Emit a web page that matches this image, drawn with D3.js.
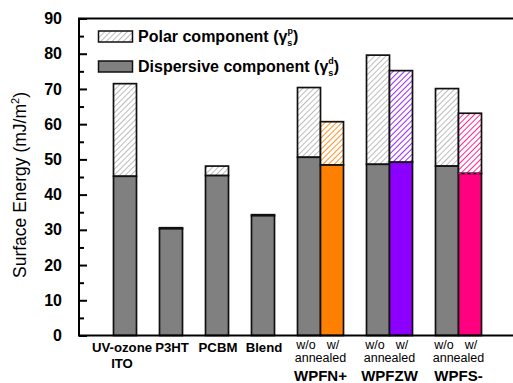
<!DOCTYPE html>
<html>
<head>
<meta charset="utf-8">
<script src="https://cdn.jsdelivr.net/npm/d3@7"></script>
<style>
  html, body { margin: 0; padding: 0; background: #fff; }
  svg { display: block; font-family: "Liberation Sans", Arial, sans-serif; }
</style>
</head>
<body>
<svg id="chart" width="513" height="383"></svg>
<script>
// Surface energy split into dispersive and polar parts, one bar per film
const groups = ["UV-ozone ITO", "P3HT", "PCBM", "Blend", "WPFN+", "WPFZW", "WPFS-"];
const barGroup = ["UV-ozone ITO", "P3HT", "PCBM", "Blend", "WPFN+", "WPFN+", "WPFZW", "WPFZW", "WPFS-", "WPFS-"];
const barCondition = ["", "", "", "", "w/o", "w/", "w/o", "w/", "w/o", "w/"];
const dispersive = [45.2, 30.3, 45.4, 34.0, 50.6, 48.4, 48.6, 49.2, 48.1, 46.0];
const polar = [26.3, 0.3, 2.7, 0.3, 19.8, 12.3, 31.0, 26.0, 22.0, 17.1];
const yTicks = [0, 10, 20, 30, 40, 50, 60, 70, 80, 90];
const yMinorTicks = [5, 15, 25, 35, 45, 55, 65, 75, 85];

const svg = d3.select("#chart");
const plotLeft = 79, plotTop = 18.5, plotBottom = 335.5;

// Horizontal slots measured in bar widths: paired bars touch, clusters are one bar apart
const slotStart = [];
let cursor = 1.5;
groups.forEach((g, gi) => {
  const idx = barGroup.map((b, i) => b === g ? i : -1).filter(i => i >= 0);
  idx.forEach(i => { slotStart[i] = cursor; cursor += 1; });
  if (gi < groups.length - 1) cursor += 1;
});
const slotTotal = cursor + 1.5;

const x = d3.scaleLinear().domain([0, slotTotal]).range([plotLeft, plotLeft + slotTotal * 23]);
const y = d3.scaleLinear().domain([0, 90]).range([plotBottom, plotTop]);
const plotRight = x(slotTotal);
const bw = x(1) - x(0);

const annealColor = { "WPFN+": "#ff8000", "WPFZW": "#8c00ff", "WPFS-": "#ff0080" };
const grey = "#808080";
const fillOf = i => barCondition[i] === "w/" ? annealColor[barGroup[i]] : grey;
const hatchOf = i => barCondition[i] === "w/" ? annealColor[barGroup[i]] : "#858585";

// Diagonal hatch patterns for the polar parts
const defs = svg.append("defs");
const hatchColors = Array.from(new Set(d3.range(dispersive.length).map(hatchOf)));
hatchColors.forEach(c => {
  const p = defs.append("pattern")
    .attr("id", "hatch" + c.slice(1))
    .attr("patternUnits", "userSpaceOnUse")
    .attr("width", 4).attr("height", 4)
    .attr("patternTransform", "rotate(45)");
  p.append("rect").attr("width", 4).attr("height", 4).attr("fill", "#fff");
  p.append("line").attr("x1", 0).attr("y1", 0).attr("x2", 0).attr("y2", 4)
    .attr("stroke", c).attr("stroke-width", c === "#858585" ? 1.1 : 1.7);
});

// Bars
const bars = svg.append("g");
d3.range(dispersive.length).forEach(i => {
  const x0 = x(slotStart[i]);
  const total = dispersive[i] + polar[i];
  bars.append("rect")
    .attr("x", x0).attr("y", y(total))
    .attr("width", bw).attr("height", y(dispersive[i]) - y(total))
    .attr("fill", "url(#hatch" + hatchOf(i).slice(1) + ")")
    .attr("stroke", "#111").attr("stroke-width", 1.7);
  bars.append("rect")
    .attr("x", x0).attr("y", y(dispersive[i]))
    .attr("width", bw).attr("height", y(0) - y(dispersive[i]))
    .attr("fill", fillOf(i))
    .attr("stroke", "#111").attr("stroke-width", 1.7);
  if (barGroup[i] === "WPFS-" && barCondition[i] === "w/") {
    bars.append("line")
      .attr("x1", x0).attr("x2", x0 + bw)
      .attr("y1", y(dispersive[i])).attr("y2", y(dispersive[i]))
      .attr("stroke", annealColor["WPFS-"]).attr("stroke-width", 1.7)
      .attr("stroke-dasharray", "3,3");
  }
});

// Frame
svg.append("rect")
  .attr("x", plotLeft).attr("y", plotTop)
  .attr("width", plotRight - plotLeft).attr("height", plotBottom - plotTop)
  .attr("fill", "none").attr("stroke", "#000").attr("stroke-width", 2);

// Left axis, ticks pointing inward
const yAxis = svg.append("g").attr("transform", `translate(${plotLeft},0)`)
  .call(d3.axisLeft(y).tickValues(yTicks).tickSizeInner(-8).tickSizeOuter(0).tickPadding(17));
yAxis.select(".domain").remove();
yAxis.selectAll(".tick line").attr("stroke", "#000").attr("stroke-width", 2);
yAxis.selectAll(".tick text")
  .attr("font-size", 16).attr("font-weight", "bold").attr("fill", "#000")
  .attr("font-family", "Liberation Sans, Arial, sans-serif");

const yMinor = svg.append("g").attr("transform", `translate(${plotLeft},0)`)
  .call(d3.axisLeft(y).tickValues(yMinorTicks).tickSizeInner(-5).tickSizeOuter(0).tickFormat(""));
yMinor.select(".domain").remove();
yMinor.selectAll(".tick line").attr("stroke", "#000").attr("stroke-width", 2);

// Y axis title
const yt = svg.append("text")
  .attr("transform", `translate(26,${(plotTop + plotBottom) / 2 + 8}) rotate(-90)`)
  .attr("text-anchor", "middle")
  .attr("font-size", 17.5).attr("fill", "#000");
yt.append("tspan").text("Surface Energy (mJ/m");
yt.append("tspan").attr("font-size", 11).attr("dy", -7).text("2");
yt.append("tspan").attr("dy", 7).text(")");

// Legend
const legend = [
  { label: "Polar component (", sup: "p", fill: "url(#hatch858585)" },
  { label: "Dispersive component (", sup: "d", fill: grey }
];
legend.forEach((d, k) => {
  const ly = 31 + k * 30;
  svg.append("rect")
    .attr("x", 98.5).attr("y", ly).attr("width", 34).attr("height", 11)
    .attr("fill", d.fill).attr("stroke", "#111").attr("stroke-width", 1.5);
  const t = svg.append("text")
    .attr("x", 138).attr("y", ly + 11)
    .attr("font-size", 16).attr("font-weight", "bold").attr("fill", "#000");
  t.append("tspan").text(d.label + "γ");
  t.append("tspan").attr("font-size", 9).attr("dy", 4).text("s");
  t.append("tspan").attr("font-size", 9).attr("dx", -5).attr("dy", -12).text(d.sup);
  t.append("tspan").attr("dy", 8).text(")");
});

// Category labels under the axis
const labels = svg.append("g").attr("fill", "#000");
const centre = i => x(slotStart[i] + 0.5);
groups.forEach(g => {
  const idx = barGroup.map((b, i) => b === g ? i : -1).filter(i => i >= 0);
  if (idx.length === 1) {
    const words = g === "UV-ozone ITO" ? ["UV-ozone", "ITO"] : [g];
    words.forEach((w, k) => {
      labels.append("text")
        .attr("x", centre(idx[0]) + (g === "UV-ozone ITO" ? -3 : 1))
        .attr("y", 351.5 + k * 16.5)
        .attr("text-anchor", "middle")
        .attr("font-size", 13.2).attr("font-weight", "bold")
        .text(w);
    });
  } else {
    idx.forEach(i => {
      labels.append("text")
        .attr("x", centre(i) + (barCondition[i] === "w/o" ? -3 : 1))
        .attr("y", 348.5)
        .attr("text-anchor", "middle")
        .attr("font-size", 12.5)
        .text(barCondition[i]);
    });
    const mid = (centre(idx[0]) + centre(idx[1])) / 2;
    labels.append("text")
      .attr("x", mid).attr("y", 362)
      .attr("text-anchor", "middle")
      .attr("font-size", 12.5)
      .text("annealed");
    labels.append("text")
      .attr("x", mid).attr("y", 381)
      .attr("text-anchor", "middle")
      .attr("font-size", 15).attr("font-weight", "bold")
      .text(g);
  }
});
</script>
</body>
</html>
